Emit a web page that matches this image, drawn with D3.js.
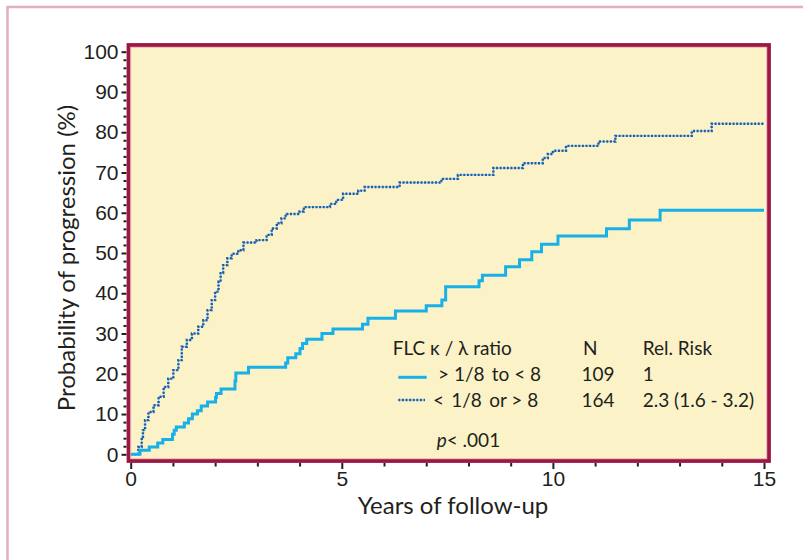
<!DOCTYPE html>
<html>
<head>
<meta charset="utf-8">
<script src="https://cdn.jsdelivr.net/npm/d3@7"></script>
<style>
  body { margin: 0; background: #fff; }
  svg { display: block; font-family: Lato, "Noto Sans", sans-serif; }
  .axis text { font-size: 21px; fill: #231f20; }
  .axis line { stroke: #231f20; stroke-width: 2; }
  .axis path { display: none; }
</style>
</head>
<body>
<svg id="chart" width="803" height="560"></svg>
<script>
// group 1: FLC ratio > 1/8 to < 8 (solid)
var solidYears  = [0, 0.22, 0.44, 0.64, 0.76, 0.99, 1.03, 1.08, 1.27, 1.37, 1.46, 1.58, 1.67, 1.82, 2.01, 2.03, 2.14, 2.47, 2.49, 2.79, 3.67, 3.72, 3.91, 4.01, 4.07, 4.17, 4.53, 4.79, 5.49, 5.62, 6.27, 7.0, 7.37, 7.46, 8.25, 8.33, 8.88, 9.21, 9.5, 9.73, 10.12, 11.27, 11.81, 12.54, 15.0];
var solidProb   = [0, 1.0, 1.8, 2.8, 3.7, 5.0, 6.0, 6.8, 7.8, 8.8, 10.0, 10.8, 12.0, 13.0, 14.1, 15.1, 16.2, 18.2, 20.2, 21.6, 22.7, 24.0, 25.0, 26.3, 27.5, 28.6, 30.0, 31.1, 32.3, 33.8, 35.6, 36.9, 38.3, 41.6, 43.1, 44.5, 46.6, 48.3, 50.3, 52.2, 54.2, 56.0, 58.2, 60.6, 60.6];

// group 2: FLC ratio < 1/8 or > 8 (dotted)
var dottedYears = [0, 0.18, 0.26, 0.29, 0.34, 0.42, 0.54, 0.66, 0.78, 0.89, 1.01, 1.13, 1.21, 1.33, 1.45, 1.6, 1.72, 1.82, 1.92, 2.0, 2.08, 2.13, 2.19, 2.29, 2.39, 2.55, 2.67, 2.98, 3.22, 3.34, 3.46, 3.57, 3.67, 4.0, 4.1, 4.72, 4.87, 5.03, 5.39, 5.54, 6.37, 7.36, 7.75, 8.59, 9.29, 9.76, 9.88, 10.0, 10.31, 11.08, 11.48, 13.29, 13.76, 15.0];
var dottedProb  = [0, 1.8, 4.3, 6.0, 8.5, 10.5, 12.2, 14.3, 16.7, 18.8, 20.9, 23.4, 26.7, 28.4, 30.0, 31.7, 33.3, 35.8, 38.3, 40.4, 42.9, 45.0, 47.0, 48.7, 49.8, 50.7, 52.6, 53.2, 54.5, 56.1, 57.4, 58.6, 59.7, 60.3, 61.4, 62.2, 63.2, 64.7, 65.5, 66.4, 67.5, 68.4, 69.4, 71.1, 72.3, 73.6, 74.6, 75.4, 76.6, 77.7, 79.1, 80.3, 82.1, 82.1];

var yTicks = [0, 10, 20, 30, 40, 50, 60, 70, 80, 90, 100];
var xTicks = [0, 5, 10, 15];

var legendHeader = ["FLC \u03ba / \u03bb ratio", "N", "Rel. Risk"];
var legendLabels = ["> 1/8\u2009 to < 8", "<\u2009 1/8\u2009 or > 8"];
var legendN      = ["109", "164"];
var legendRisk   = ["1", "2.3 (1.6 - 3.2)"];

var svg = d3.select('#chart');
var ink = '#231f20';

// outer pink page frame
svg.append('rect')
  .attr('x', 7.5).attr('y', 7).attr('width', 820).attr('height', 580)
  .attr('fill', 'none').attr('stroke', '#dfb1ba').attr('stroke-width', 2.5);

var x = d3.scaleLinear().domain([0, 15]).range([130.7, 764]);
var y = d3.scaleLinear().domain([0, 100]).range([454.3, 51.7]);

// plot panel
var frame = {left: 128.5, top: 45, right: 769, bottom: 461};
svg.append('rect')
  .attr('x', frame.left).attr('y', frame.top)
  .attr('width', frame.right - frame.left).attr('height', frame.bottom - frame.top)
  .attr('fill', '#fbf3c7');

// axes, major + minor ticks
svg.append('g').attr('class', 'axis')
  .attr('transform', 'translate(126.5,0)')
  .call(d3.axisLeft(y).tickValues(yTicks).tickSize(5).tickPadding(3));
svg.append('g').attr('class', 'axis')
  .attr('transform', 'translate(126.5,0)')
  .call(d3.axisLeft(y).tickValues(d3.range(0, 101, 2).filter(function(d) { return d % 10; })).tickSize(3).tickFormat(''));

svg.append('g').attr('class', 'axis')
  .attr('transform', 'translate(0,463)')
  .call(d3.axisBottom(x).tickValues(xTicks).tickSize(6).tickPadding(2));
svg.append('g').attr('class', 'axis')
  .attr('transform', 'translate(0,463)')
  .call(d3.axisBottom(x).tickValues(d3.range(1, 15).filter(function(d) { return d % 5; })).tickSize(3.5).tickFormat(''));

// curves
var line = d3.line()
  .x(function(d) { return x(d[0]); })
  .y(function(d) { return y(d[1]); })
  .curve(d3.curveStepAfter);

var solid = d3.zip(solidYears, solidProb);
var dotted = d3.zip(dottedYears, dottedProb);

svg.append('path').datum(dotted)
  .attr('d', line).attr('fill', 'none')
  .attr('stroke', '#8fc8ee').attr('stroke-width', 1.2);
svg.append('path').datum(dotted)
  .attr('d', line).attr('fill', 'none')
  .attr('stroke', '#1f5aa5').attr('stroke-width', 2.4)
  .attr('stroke-dasharray', '2,1.6');

svg.append('path').datum(solid)
  .attr('d', line).attr('fill', 'none')
  .attr('stroke', '#17b0e9').attr('stroke-width', 3);

// frame on top
svg.append('rect')
  .attr('x', frame.left).attr('y', frame.top)
  .attr('width', frame.right - frame.left).attr('height', frame.bottom - frame.top)
  .attr('fill', 'none').attr('stroke', '#9d1745').attr('stroke-width', 3.8);
svg.append('rect')
  .attr('x', frame.left + 2.3).attr('y', frame.top + 2.3)
  .attr('width', frame.right - frame.left - 4.6).attr('height', frame.bottom - frame.top - 4.6)
  .attr('fill', 'none').attr('stroke', '#e9a9b8').attr('stroke-width', 0.8);

// legend table
var lg = svg.append('g').attr('fill', ink).style('font-size', '19px');
var colX = [392.7, 583, 642.7];
legendHeader.forEach(function(t, i) {
  lg.append('text').attr('x', colX[i]).attr('y', 355).text(t);
});
var rowY = [380.7, 406.7];
legendLabels.forEach(function(t, i) {
  lg.append('text').attr('x', i === 0 ? 438 : 433).attr('y', rowY[i]).text(t);
  lg.append('text').attr('x', 581.5).attr('y', rowY[i]).text(legendN[i]);
  lg.append('text').attr('x', 642.7).attr('y', rowY[i]).text(legendRisk[i]);
});
lg.append('line').attr('x1', 398.3).attr('x2', 426.7).attr('y1', 377.3).attr('y2', 377.3)
  .attr('stroke', '#17b0e9').attr('stroke-width', 3);
lg.append('line').attr('x1', 398.3).attr('x2', 425).attr('y1', 400).attr('y2', 400)
  .attr('stroke', '#8fc8ee').attr('stroke-width', 1.2);
lg.append('line').attr('x1', 398.3).attr('x2', 425).attr('y1', 400).attr('y2', 400)
  .attr('stroke', '#1f5aa5').attr('stroke-width', 2.4).attr('stroke-dasharray', '2,1.6');

var pText = lg.append('text').attr('x', 436.7).attr('y', 446.7);
pText.append('tspan').attr('font-style', 'italic').text('p');
pText.append('tspan').text('< .001');

// axis titles
svg.append('text')
  .attr('x', 453).attr('y', 514)
  .attr('text-anchor', 'middle').attr('fill', ink)
  .style('font-size', '24px')
  .text('Years of follow-up');
svg.append('text')
  .attr('transform', 'translate(75,258) rotate(-90)')
  .attr('text-anchor', 'middle').attr('fill', ink)
  .style('font-size', '24px')
  .text('Probability of progression (%)');
</script>
</body>
</html>
